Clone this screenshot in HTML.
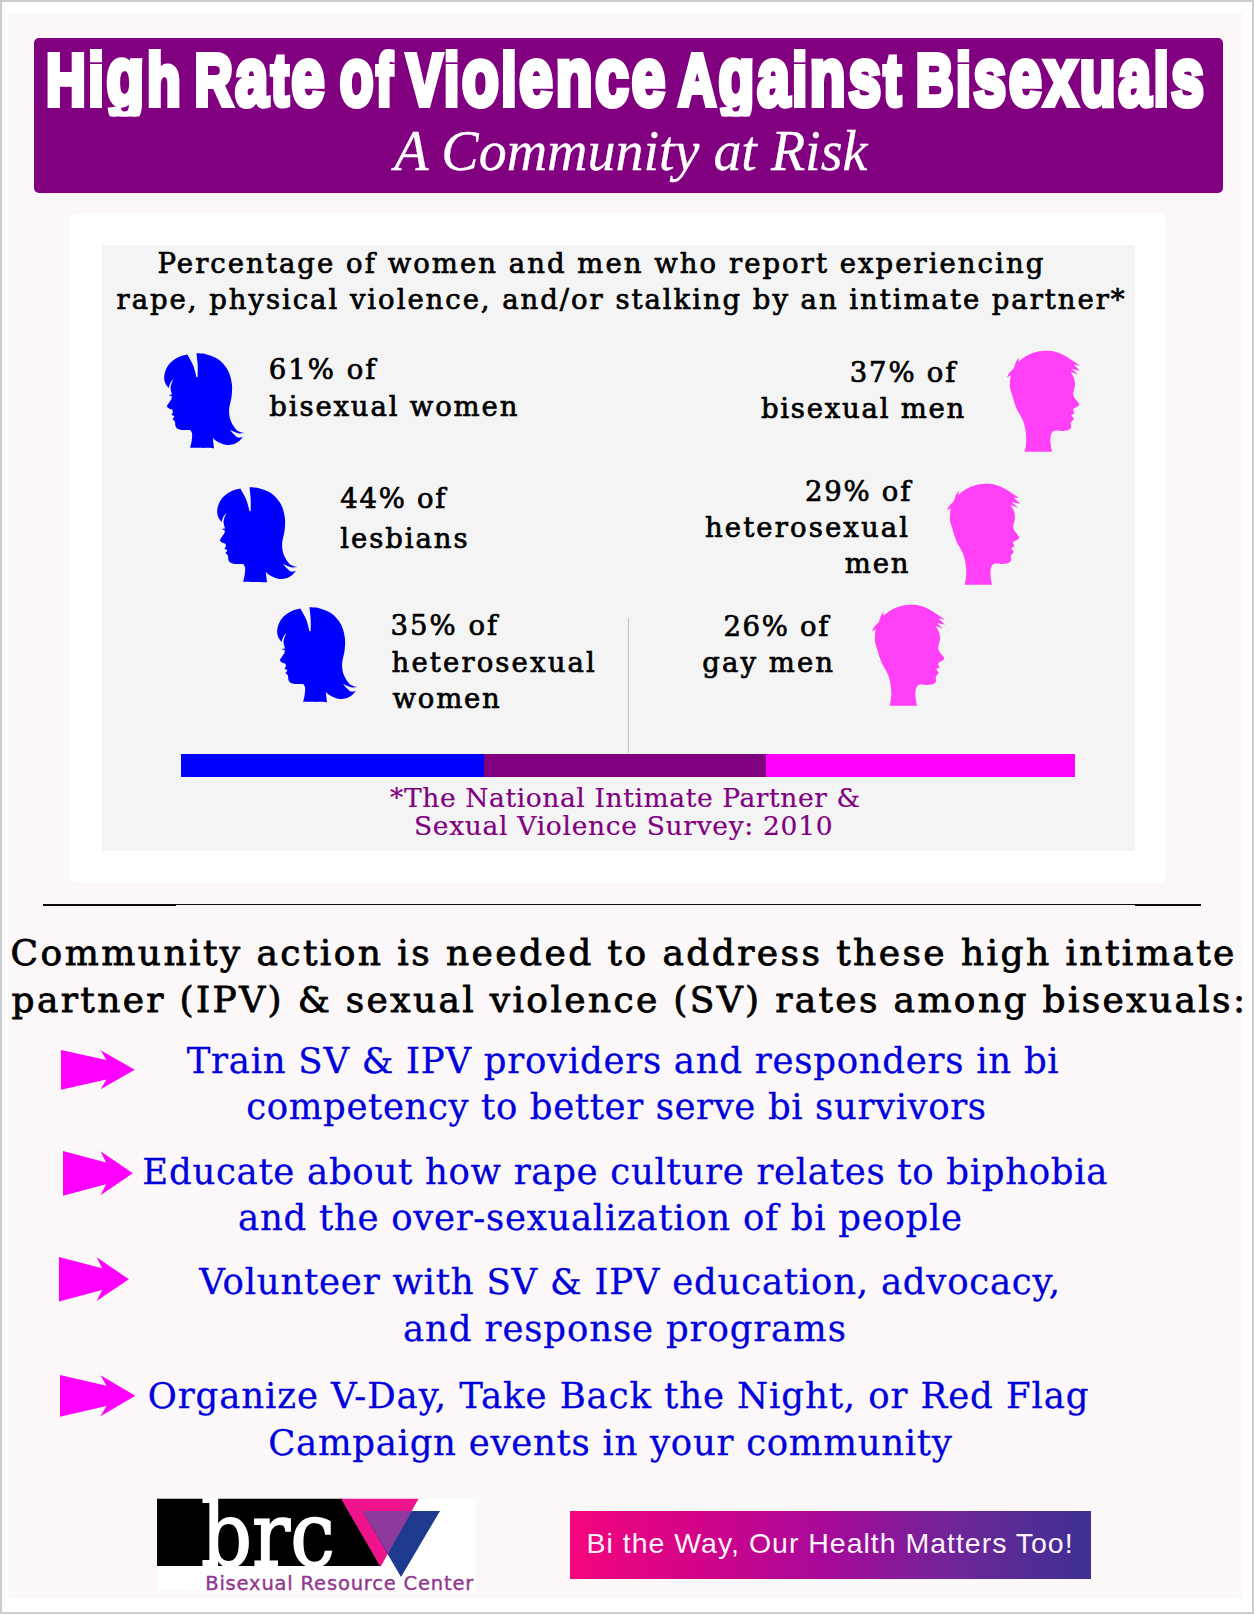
<!DOCTYPE html>
<html lang="en">
<head>
<meta charset="utf-8">
<title>High Rate of Violence Against Bisexuals</title>
<style>
html,body{margin:0;padding:0}
body{width:1254px;height:1614px;position:relative;overflow:hidden;background:#cdcdcd;font-family:"DejaVu Serif","Liberation Serif",serif}
.abs{position:absolute}
.t{position:absolute;white-space:pre;line-height:1;margin:0;padding:0}
#frame{left:2px;top:2px;width:1250px;height:1610px;background:#fff}
#paper{left:8px;top:13px;width:1233.5px;height:1585px;background:#fcf7f8}
#banner{left:34.2px;top:37.6px;width:1188.7px;height:155.6px;background:#800080;border-radius:5px}

#panel{left:70.2px;top:213.2px;width:1095.7px;height:669.7px;background:#fff;border-radius:7px}
#chart{left:101.7px;top:244.6px;width:1033.3px;height:606.4px;background:#f4f4f4}
#rule{left:43.1px;top:903.9px;width:1158.3px;height:1.5px;background:#111}
.rk{top:903.5px;height:2.3px;background:#0a0a0a}
#vline{left:627.8px;top:617.9px;width:1.5px;height:135.6px;background:#c2c2c2}
.bar{top:753.5px;height:23.9px}
#logo{left:157px;top:1498.7px;width:319px;height:92.5px;background:#fff}
#cta{left:570px;top:1510.5px;width:520.8px;height:68px;background:linear-gradient(90deg,#f5057d 0%,#d20389 25%,#a5099a 50%,#6c2698 75%,#3c3193 100%)}
svg{position:absolute;overflow:visible}
</style>
</head>
<body>
<div class="abs" id="frame"></div>
<div class="abs" id="paper"></div>
<div class="abs" id="banner"></div>
<svg id="title" aria-label="High Rate of Violence Against Bisexuals" style="left:0;top:0" width="1254" height="200" viewBox="0 0 1254 200"><defs><clipPath id="tc"><rect x="0" y="0" width="1254" height="116.6"/></clipPath></defs><g clip-path="url(#tc)" fill="#fff" stroke="#fff" stroke-width="6" stroke-linejoin="miter" stroke-miterlimit="2.2" font-family="'Liberation Sans',sans-serif" font-weight="bold" font-size="72.2" letter-spacing="4">
<text transform="translate(46.25 104.90) scale(0.7525 1)">Hi<tspan font-size="81.7">g</tspan>h</text>
<text transform="translate(194.68 104.90) scale(0.7245 1)">R<tspan font-size="81.7">a</tspan>t<tspan font-size="81.7">e</tspan></text>
<text transform="translate(339.80 104.90) scale(0.6765 1)"><tspan font-size="81.7">o</tspan>f</text>
<text transform="translate(406.81 104.90) scale(0.7357 1)">Vi<tspan font-size="81.7">o</tspan>l<tspan font-size="81.7">ence</tspan></text>
<text transform="translate(678.43 104.90) scale(0.7159 1)">A<tspan font-size="81.7">ga</tspan>i<tspan font-size="81.7">ns</tspan>t</text>
<text transform="translate(915.98 104.90) scale(0.7172 1)">Bi<tspan font-size="81.7">sexua</tspan>l<tspan font-size="81.7">s</tspan></text>
</g></svg>
<div class="abs" id="panel"></div>
<div class="abs" id="chart"></div>
<div class="abs bar" style="left:181px;width:302.7px;background:#0000ff"></div>
<div class="abs bar" style="left:483.7px;width:281.9px;background:#800080"></div>
<div class="abs bar" style="left:765.6px;width:309px;background:#ff00ff"></div>
<div class="abs" id="vline"></div>
<div class="abs" id="rule"></div>
<div class="abs rk" style="left:43.1px;width:133px"></div>
<div class="abs rk" style="left:1135px;width:66.4px"></div>
<svg width="0" height="0" style="left:0;top:0"><defs><path id="fem" d="M32.30 9.57C32.30 9.57 26.65 10.70 23.92 11.96C21.20 13.22 18.08 15.15 15.95 17.15C13.82 19.14 12.29 21.46 11.16 23.92C10.03 26.38 9.30 29.51 9.17 31.90C9.04 34.29 9.64 36.42 10.37 38.28C11.10 40.14 13.56 43.06 13.56 43.06C13.56 43.06 14.78 38.97 15.55 37.48C16.32 35.99 18.18 34.13 18.18 34.13C18.18 34.13 16.79 37.52 16.35 39.07C15.91 40.63 15.42 41.71 15.55 43.46C15.68 45.22 17.15 49.60 17.15 49.60C17.15 49.60 13.56 50.08 13.56 50.08C13.56 50.08 16.91 51.67 16.91 51.67C16.91 51.67 16.71 53.40 16.35 54.23C15.99 55.05 15.48 55.49 14.75 56.62C14.02 57.75 11.96 61.00 11.96 61.00C11.96 61.00 12.29 62.40 13.16 63.00C14.02 63.60 17.15 64.59 17.15 64.59C17.15 64.59 18.08 66.12 17.94 66.99C17.81 67.85 16.35 69.78 16.35 69.78C16.35 69.78 19.54 71.37 19.54 71.37C19.54 71.37 17.54 74.16 17.54 74.16C17.54 74.16 19.47 75.49 19.94 76.56C20.40 77.62 20.00 79.41 20.33 80.54C20.67 81.67 20.93 82.60 21.93 83.33C22.93 84.06 24.12 84.66 26.32 84.93C28.51 85.19 35.09 84.93 35.09 84.93C35.09 84.93 36.82 86.72 37.08 88.52C37.35 90.31 37.01 93.30 36.68 95.69C36.35 98.09 35.09 102.87 35.09 102.87C35.09 102.87 59.01 103.27 59.01 103.27C59.01 103.27 57.81 92.90 57.81 92.90C57.81 92.90 60.14 95.36 62.20 96.49C64.26 97.62 67.52 99.22 70.18 99.68C72.83 100.15 75.76 99.95 78.15 99.28C80.54 98.62 82.93 96.89 84.53 95.69C86.12 94.50 87.72 92.11 87.72 92.11C87.72 92.11 84.40 92.97 82.93 92.50C81.47 92.04 80.28 90.58 78.95 89.31C77.62 88.05 74.96 84.93 74.96 84.93C74.96 84.93 78.15 86.32 79.74 86.92C81.34 87.52 82.93 88.32 84.53 88.52C86.12 88.72 89.31 88.12 89.31 88.12C89.31 88.12 84.80 87.39 82.93 86.12C81.07 84.86 79.48 82.67 78.15 80.54C76.82 78.42 75.62 76.16 74.96 73.37C74.30 70.57 73.90 67.38 74.16 63.80C74.43 60.21 76.09 55.82 76.56 51.83C77.02 47.85 77.35 43.86 76.95 39.87C76.56 35.89 75.56 31.37 74.16 27.91C72.77 24.46 70.84 21.66 68.58 19.14C66.32 16.61 63.53 14.42 60.61 12.76C57.68 11.10 54.23 9.90 51.04 9.17C47.85 8.44 41.47 8.37 41.47 8.37C41.47 8.37 42.46 16.02 42.66 19.94C42.86 23.86 42.66 31.90 42.66 31.90C42.66 31.90 41.47 32.30 41.47 32.30C41.47 32.30 39.81 24.52 38.28 20.73C36.75 16.95 32.30 9.57 32.30 9.57Z"/><path id="mal" d="M50.93 10.74C53.09 10.74 55.72 10.84 58.11 11.32C60.50 11.79 62.89 12.63 65.29 13.61C67.68 14.59 70.19 15.89 72.46 17.20C74.74 18.52 76.89 20.13 78.92 21.51C80.96 22.88 84.67 25.45 84.67 25.45C84.67 25.45 78.56 24.38 78.56 24.38C78.56 24.38 85.38 30.98 85.38 30.98C85.38 30.98 76.77 29.04 76.77 29.04C76.77 29.04 82.87 34.57 82.87 34.57C82.87 34.57 75.69 31.91 75.69 31.91C75.69 31.91 78.21 36.04 78.92 38.01C79.64 39.99 79.94 41.96 80.00 43.76C80.06 45.55 79.58 47.11 79.28 48.78C78.98 50.45 78.15 52.25 78.21 53.80C78.27 55.36 78.65 56.44 79.64 58.11C80.63 59.78 83.58 62.45 84.13 63.80C84.68 65.14 83.86 65.39 82.93 66.19C82.00 66.99 78.55 68.58 78.55 68.58C78.55 68.58 77.95 69.78 78.15 70.57C78.35 71.37 79.74 73.37 79.74 73.37C79.74 73.37 76.16 75.36 76.16 75.36C76.16 75.36 78.95 78.95 78.95 78.95C78.95 78.95 76.22 81.61 75.76 82.93C75.29 84.26 76.56 85.73 76.16 86.92C75.76 88.12 74.76 89.45 73.37 90.11C71.97 90.78 69.91 90.84 67.78 90.91C65.66 90.98 62.40 90.24 60.61 90.51C58.81 90.78 57.88 91.24 57.02 92.50C56.15 93.77 55.62 95.96 55.42 98.09C55.22 100.21 55.56 103.00 55.82 105.26C56.09 107.52 57.02 111.64 57.02 111.64C57.02 111.64 29.51 111.64 29.51 111.64C29.51 111.64 30.26 109.12 30.54 107.66C30.82 106.19 31.06 104.47 31.18 102.87C31.30 101.28 31.34 99.95 31.26 98.09C31.18 96.23 30.97 93.70 30.70 91.71C30.44 89.71 30.13 87.99 29.67 86.12C29.20 84.26 28.60 82.27 27.91 80.54C27.22 78.81 26.45 77.49 25.52 75.76C24.59 74.03 23.24 72.04 22.33 70.18C21.42 68.31 20.93 67.06 20.07 64.57C19.22 62.08 18.04 57.99 17.20 55.24C16.36 52.49 15.41 50.45 15.05 48.06C14.69 45.67 14.93 43.04 15.05 40.89C15.17 38.73 15.77 35.14 15.77 35.14C15.77 35.14 12.18 37.30 12.18 37.30C12.18 37.30 13.19 34.55 14.33 32.99C15.47 31.44 19.00 27.97 19.00 27.97C19.00 27.97 20.39 23.21 21.15 21.51C21.90 19.81 23.52 17.78 23.52 17.78C23.52 17.78 23.66 21.87 23.66 21.87C23.66 21.87 27.13 18.64 29.40 17.20C31.67 15.77 34.67 14.23 37.30 13.25C39.93 12.27 42.92 11.73 45.19 11.32C47.46 10.90 48.78 10.74 50.93 10.74Z"/></defs></svg>
<svg style="left:155px;top:345px" width="100" height="110" viewBox="0 0 100 110"><use href="#fem" fill="#0000ff"/></svg>
<svg style="left:207.5px;top:478.5px" width="100" height="110" viewBox="0 0 100 110"><use href="#fem" fill="#0000ff"/></svg>
<svg style="left:267.5px;top:599.4px" width="100" height="110" viewBox="0 0 100 110"><use href="#fem" fill="#0000ff"/></svg>
<svg style="left:995px;top:340px" width="100" height="120" viewBox="0 0 100 120"><use href="#mal" fill="#ff40f6"/></svg>
<svg style="left:935px;top:473.2px" width="100" height="120" viewBox="0 0 100 120"><use href="#mal" fill="#ff40f6"/></svg>
<svg style="left:860.3px;top:594px" width="100" height="120" viewBox="0 0 100 120"><use href="#mal" fill="#ff40f6"/></svg>
<svg style="left:60.6px;top:1050.1px" width="73.7" height="39.7" viewBox="0 0 100 100" preserveAspectRatio="none"><polygon id="arw" points="0,0 61.7,25.5 53.8,0.8 100,50 53.8,99.2 61.7,74.5 0,100" fill="#ff00ff"/></svg>
<svg style="left:62.5px;top:1150.9px" width="69.8" height="44.7" viewBox="0 0 100 100" preserveAspectRatio="none"><use href="#arw"/></svg>
<svg style="left:59.1px;top:1257px" width="69.9" height="44.4" viewBox="0 0 100 100" preserveAspectRatio="none"><use href="#arw"/></svg>
<svg style="left:59.9px;top:1375.3px" width="75.3" height="41.7" viewBox="0 0 100 100" preserveAspectRatio="none"><use href="#arw"/></svg>

<div class="abs" id="logo"></div>
<svg style="left:157px;top:1499px" width="319" height="92" viewBox="157 1499 319 92">
  <polygon points="157,1498.7 343,1498.7 380.5,1566 157,1566" fill="#000"/>
  <polygon points="341,1498.7 418.5,1498.7 380.5,1567" fill="#f0148c"/>
  <polygon points="362.5,1511 440,1511 401,1577" fill="#1e3a8e"/>
  <polygon points="362.5,1511 412,1511 388,1553.5" fill="#8e3a9c"/>
</svg>
<div class="abs" id="cta"></div>
<div class="t" style="left:157.55px;top:250px;font-family:'DejaVu Serif', 'Liberation Serif', serif;font-size:27.5px;color:#000;letter-spacing:2.035px;-webkit-text-stroke:0.7px #000;">Percentage of women and men who report experiencing</div>
<div class="t" style="left:116.55px;top:285.8px;font-family:'DejaVu Serif', 'Liberation Serif', serif;font-size:27.5px;color:#000;letter-spacing:1.956px;-webkit-text-stroke:0.7px #000;">rape, physical violence, and/or stalking by an intimate partner*</div>
<div class="t" style="left:268.75px;top:356.2px;font-family:'DejaVu Serif', 'Liberation Serif', serif;font-size:27.5px;color:#000;letter-spacing:2.016px;-webkit-text-stroke:0.7px #000;">61% of</div>
<div class="t" style="left:269.35px;top:392.7px;font-family:'DejaVu Serif', 'Liberation Serif', serif;font-size:27.5px;color:#000;letter-spacing:1.840px;-webkit-text-stroke:0.7px #000;">bisexual women</div>
<div class="t" style="left:849.85px;top:358.7px;font-family:'DejaVu Serif', 'Liberation Serif', serif;font-size:27.5px;color:#000;letter-spacing:1.776px;-webkit-text-stroke:0.7px #000;">37% of</div>
<div class="t" style="left:760.95px;top:394.6px;font-family:'DejaVu Serif', 'Liberation Serif', serif;font-size:27.5px;color:#000;letter-spacing:1.756px;-webkit-text-stroke:0.7px #000;">bisexual men</div>
<div class="t" style="left:340.35px;top:485.1px;font-family:'DejaVu Serif', 'Liberation Serif', serif;font-size:27.5px;color:#000;letter-spacing:1.716px;-webkit-text-stroke:0.7px #000;">44% of</div>
<div class="t" style="left:340.35px;top:524.6px;font-family:'DejaVu Serif', 'Liberation Serif', serif;font-size:27.5px;color:#000;letter-spacing:1.916px;-webkit-text-stroke:0.7px #000;">lesbians</div>
<div class="t" style="left:804.95px;top:477.6px;font-family:'DejaVu Serif', 'Liberation Serif', serif;font-size:27.5px;color:#000;letter-spacing:1.756px;-webkit-text-stroke:0.7px #000;">29% of</div>
<div class="t" style="left:704.95px;top:514.2px;font-family:'DejaVu Serif', 'Liberation Serif', serif;font-size:27.5px;color:#000;letter-spacing:2.126px;-webkit-text-stroke:0.7px #000;">heterosexual</div>
<div class="t" style="left:844.85px;top:550.1px;font-family:'DejaVu Serif', 'Liberation Serif', serif;font-size:27.5px;color:#000;letter-spacing:1.824px;-webkit-text-stroke:0.7px #000;">men</div>
<div class="t" style="left:390.55px;top:612.4px;font-family:'DejaVu Serif', 'Liberation Serif', serif;font-size:27.5px;color:#000;letter-spacing:2.016px;-webkit-text-stroke:0.7px #000;">35% of</div>
<div class="t" style="left:391.55px;top:649px;font-family:'DejaVu Serif', 'Liberation Serif', serif;font-size:27.5px;color:#000;letter-spacing:2.135px;-webkit-text-stroke:0.7px #000;">heterosexual</div>
<div class="t" style="left:392.55px;top:685.3px;font-family:'DejaVu Serif', 'Liberation Serif', serif;font-size:27.5px;color:#000;letter-spacing:1.763px;-webkit-text-stroke:0.7px #000;">women</div>
<div class="t" style="left:723.45px;top:612.7px;font-family:'DejaVu Serif', 'Liberation Serif', serif;font-size:27.5px;color:#000;letter-spacing:1.676px;-webkit-text-stroke:0.7px #000;">26% of</div>
<div class="t" style="left:702.35px;top:648.5px;font-family:'DejaVu Serif', 'Liberation Serif', serif;font-size:27.5px;color:#000;letter-spacing:2.045px;-webkit-text-stroke:0.7px #000;">gay men</div>
<div class="t" style="left:390.1px;top:785.2px;font-family:'DejaVu Serif', 'Liberation Serif', serif;font-size:26.5px;color:#800080;letter-spacing:0.601px;-webkit-text-stroke:0.2px #800080;">*The National Intimate Partner &amp;</div>
<div class="t" style="left:414.0px;top:813.1px;font-family:'DejaVu Serif', 'Liberation Serif', serif;font-size:26.5px;color:#800080;letter-spacing:0.683px;-webkit-text-stroke:0.2px #800080;">Sexual Violence Survey: 2010</div>
<div class="t" style="left:10.6px;top:935.2px;font-family:'DejaVu Serif', 'Liberation Serif', serif;font-size:36px;color:#000;letter-spacing:2.421px;-webkit-text-stroke:0.8px #000;">Community action is needed to address these high intimate</div>
<div class="t" style="left:11.6px;top:982.3px;font-family:'DejaVu Serif', 'Liberation Serif', serif;font-size:36px;color:#000;letter-spacing:2.338px;-webkit-text-stroke:0.8px #000;">partner (IPV) &amp; sexual violence (SV) rates among bisexuals:</div>
<div class="t" style="left:186.65px;top:1043px;font-family:'DejaVu Serif', 'Liberation Serif', serif;font-size:35.5px;color:#0000dc;letter-spacing:0.730px;-webkit-text-stroke:0.3px #0000dc;">Train SV &amp; IPV providers and responders in bi</div>
<div class="t" style="left:246.35px;top:1088.5px;font-family:'DejaVu Serif', 'Liberation Serif', serif;font-size:35.5px;color:#0000dc;letter-spacing:0.612px;-webkit-text-stroke:0.3px #0000dc;">competency to better serve bi survivors</div>
<div class="t" style="left:142.35px;top:1154.2px;font-family:'DejaVu Serif', 'Liberation Serif', serif;font-size:35.5px;color:#0000dc;letter-spacing:0.701px;-webkit-text-stroke:0.3px #0000dc;">Educate about how rape culture relates to biphobia</div>
<div class="t" style="left:238.05px;top:1200.3px;font-family:'DejaVu Serif', 'Liberation Serif', serif;font-size:35.5px;color:#0000dc;letter-spacing:0.703px;-webkit-text-stroke:0.3px #0000dc;">and the over-sexualization of bi people</div>
<div class="t" style="left:199.35px;top:1264.3px;font-family:'DejaVu Serif', 'Liberation Serif', serif;font-size:35.5px;color:#0000dc;letter-spacing:0.771px;-webkit-text-stroke:0.3px #0000dc;">Volunteer with SV &amp; IPV education, advocacy,</div>
<div class="t" style="left:403.05px;top:1311px;font-family:'DejaVu Serif', 'Liberation Serif', serif;font-size:35.5px;color:#0000dc;letter-spacing:0.865px;-webkit-text-stroke:0.3px #0000dc;">and response programs</div>
<div class="t" style="left:147.75px;top:1378.4px;font-family:'DejaVu Serif', 'Liberation Serif', serif;font-size:35.5px;color:#0000dc;letter-spacing:0.900px;-webkit-text-stroke:0.3px #0000dc;">Organize V-Day, Take Back the Night, or Red Flag</div>
<div class="t" style="left:268.15px;top:1425.4px;font-family:'DejaVu Serif', 'Liberation Serif', serif;font-size:35.5px;color:#0000dc;letter-spacing:0.716px;-webkit-text-stroke:0.3px #0000dc;">Campaign events in your community</div>
<div class="t" style="left:394.15px;top:122.8px;font-family:'Liberation Serif', serif;font-size:56px;color:#fff;letter-spacing:-0.013px;font-style:italic;-webkit-text-stroke:0.3px #fff;">A Community at Risk</div>
<div class="t" style="left:586.6px;top:1528.5px;font-family:'Liberation Sans', sans-serif;font-size:28.5px;color:#fff3fb;letter-spacing:0.986px;">Bi the Way, Our Health Matters Too!</div>
<div class="t" style="left:205.2px;top:1574px;font-family:'DejaVu Sans', 'Liberation Sans', sans-serif;font-size:19.5px;color:#93388f;letter-spacing:0.817px;-webkit-text-stroke:0.4px #93388f;">Bisexual Resource Center</div>
<div class="t" style="left:200.72px;top:1489.6px;font-family:'DejaVu Serif', 'Liberation Serif', serif;font-size:90px;color:#fff;letter-spacing:0.000px;-webkit-text-stroke:1.8px #fff;transform-origin:0 0;transform:scaleX(0.8865);">brc</div>
</body>
</html>
